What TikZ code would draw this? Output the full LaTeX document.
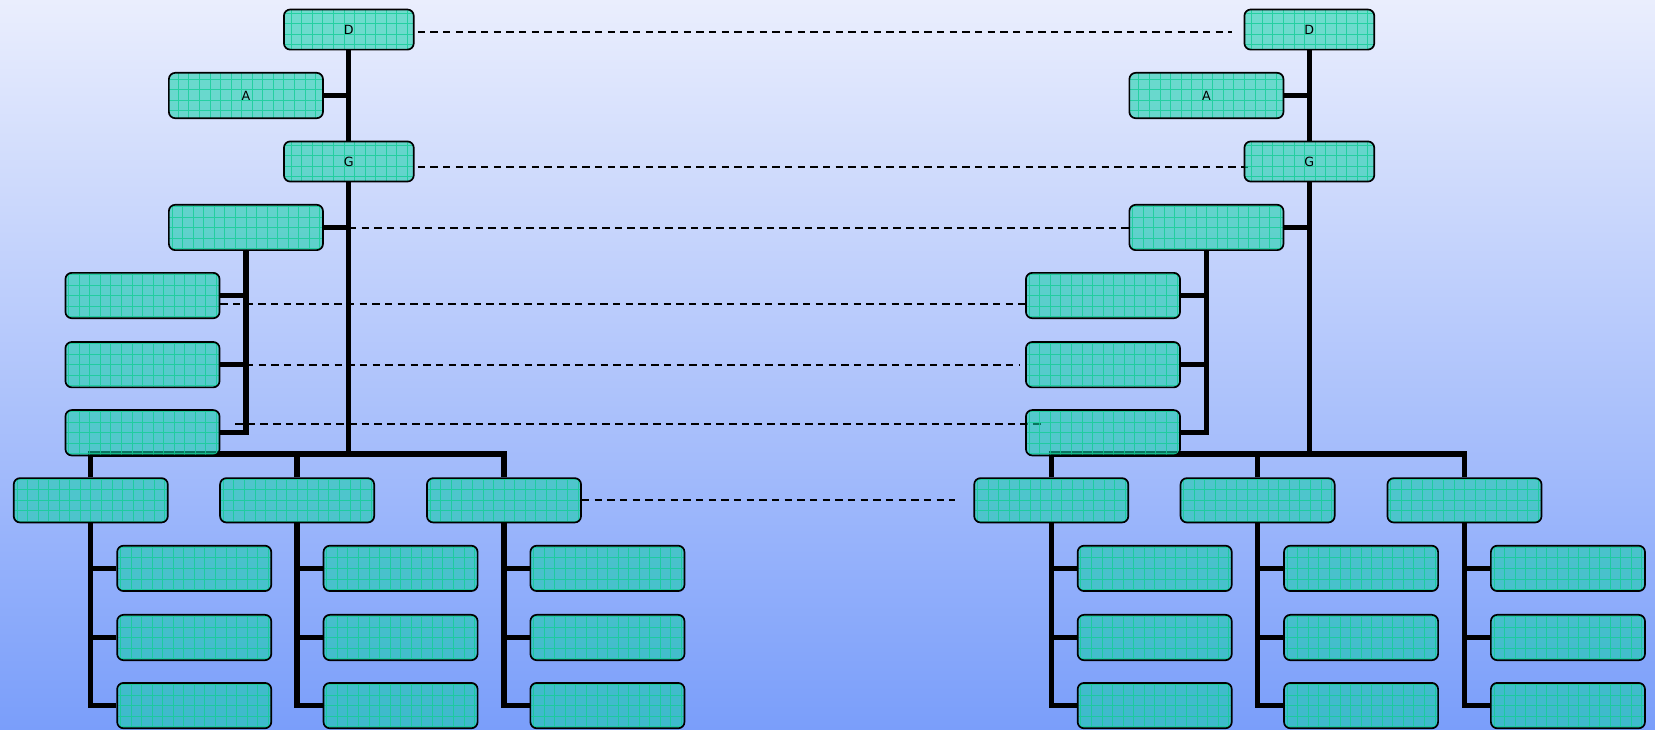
\documentclass[tikz,border=0pt]{standalone}
\usepackage{fontspec}
\setmainfont{DejaVu Sans}
\usetikzlibrary{positioning}

\definecolor{bgtop}{RGB}{234,238,253}
\definecolor{bgbottom}{RGB}{122,158,250}
\definecolor{boxfill}{RGB}{16,208,168}
\definecolor{boxgrid}{RGB}{20,205,150}

\pgfdeclarelayer{back}
\pgfdeclarelayer{links}
\pgfsetlayers{back,links,main}

\tikzset{
  box/.style={draw=black, line width=1.6pt, rounded corners=6pt,
    fill=boxfill, fill opacity=0.56, text opacity=1, inner sep=0pt,
    minimum width=146pt, minimum height=43pt, font=\fontsize{12}{14}\selectfont,
    path picture={\draw[boxgrid, line width=0.7pt, draw opacity=0.8]
      (path picture bounding box.south west) grid[step=10pt]
      (path picture bounding box.north east);}},
  smallbox/.style={box, minimum width=123pt, minimum height=38pt},
  link/.style={line width=5pt},
  match/.style={line width=1.6pt, dash pattern=on 7pt off 5pt},
}

\begin{document}
\begin{tikzpicture}[x=1pt, y=-1pt]
\useasboundingbox (0,0) rectangle (1568,691);
\begin{pgfonlayer}{back}
  \shade[top color=bgtop, bottom color=bgbottom] (0,0) rectangle (1568,691);
\end{pgfonlayer}

% the same tree twice, side by side
\foreach \side/\dx in {l/0, r/910} {
  \begin{scope}[xshift=\dx pt]
    \node[smallbox] (\side D) at (330.5,28) {D};
    \node[box] (\side A) at (233,90.5) {A};
    \node[smallbox] (\side G) at (330.5,153) {G};
    \node[box] (\side B) at (233,215.5) {};
    \node[box] (\side B1) at (135,280) {};
    \node[box] (\side B2) at (135,345.5) {};
    \node[box] (\side B3) at (135,410) {};
    \foreach \col/\cx in {1/86, 2/281.5, 3/477.5} {
      \node[box, minimum height=42pt] (\side C\col) at (\cx,474) {};
      \foreach \row/\cy in {1/538.5, 2/604, 3/668.5}
        \node[box] (\side C\col\row) at (\cx+98,\cy) {};
    }
    \coordinate (\side bar) at (330.5,430);

    \begin{pgfonlayer}{links}
      \draw[link] (\side D) -- (\side G);
      \draw[link] (\side G) -- (\side G.south |- \side bar);
      \draw[link] (\side A.east) -- (\side A.east -| \side G.south);
      \draw[link] (\side B.east) -- (\side B.east -| \side G.south);
      \draw[link] (\side B.south) |- (\side B3.east);
      \draw[link] (\side B1.east) -- (\side B1.east -| \side B.south);
      \draw[link] (\side B2.east) -- (\side B2.east -| \side B.south);
      \draw[link] (\side C1.north) |- (\side C3.north |- \side bar) -- (\side C3.north);
      \draw[link] (\side C2.north) -- (\side C2.north |- \side bar);
      \foreach \col in {1,2,3} {
        \draw[link] (\side C\col.south) |- (\side C\col3.west);
        \draw[link] (\side C\col1.west) -- (\side C\col1.west -| \side C\col.south);
        \draw[link] (\side C\col2.west) -- (\side C\col2.west -| \side C\col.south);
      }
    \end{pgfonlayer}
  \end{scope}
}

% dashed lines joining the matching boxes
\begin{pgfonlayer}{links}
  \draw[match] ([xshift=3pt,yshift=-2pt]lD.east) -- ([xshift=-11pt,yshift=-2pt]rD.west);
  \draw[match] ([xshift=3pt,yshift=-5pt]lG.east) -- ([xshift=4pt,yshift=-5pt]rG.west);
  \draw[match] ([yshift=-0.7pt]lB.east -| lG.south) -- ([yshift=-0.7pt]rB.west);
  \draw[match] ([yshift=-8pt]lB1.east) -- ([yshift=-8pt]rB1.west);
  \draw[match] (lB2.east -| lB.south) -- ([xshift=-5pt]rB2.west);
  \draw[match] ([xshift=14pt,yshift=8pt]lB3.east) -- ([xshift=16pt,yshift=8pt]rB3.west);
  \draw[match] (lC3.east) -- ([xshift=-17pt]rC1.west);
\end{pgfonlayer}
\end{tikzpicture}
\end{document}
